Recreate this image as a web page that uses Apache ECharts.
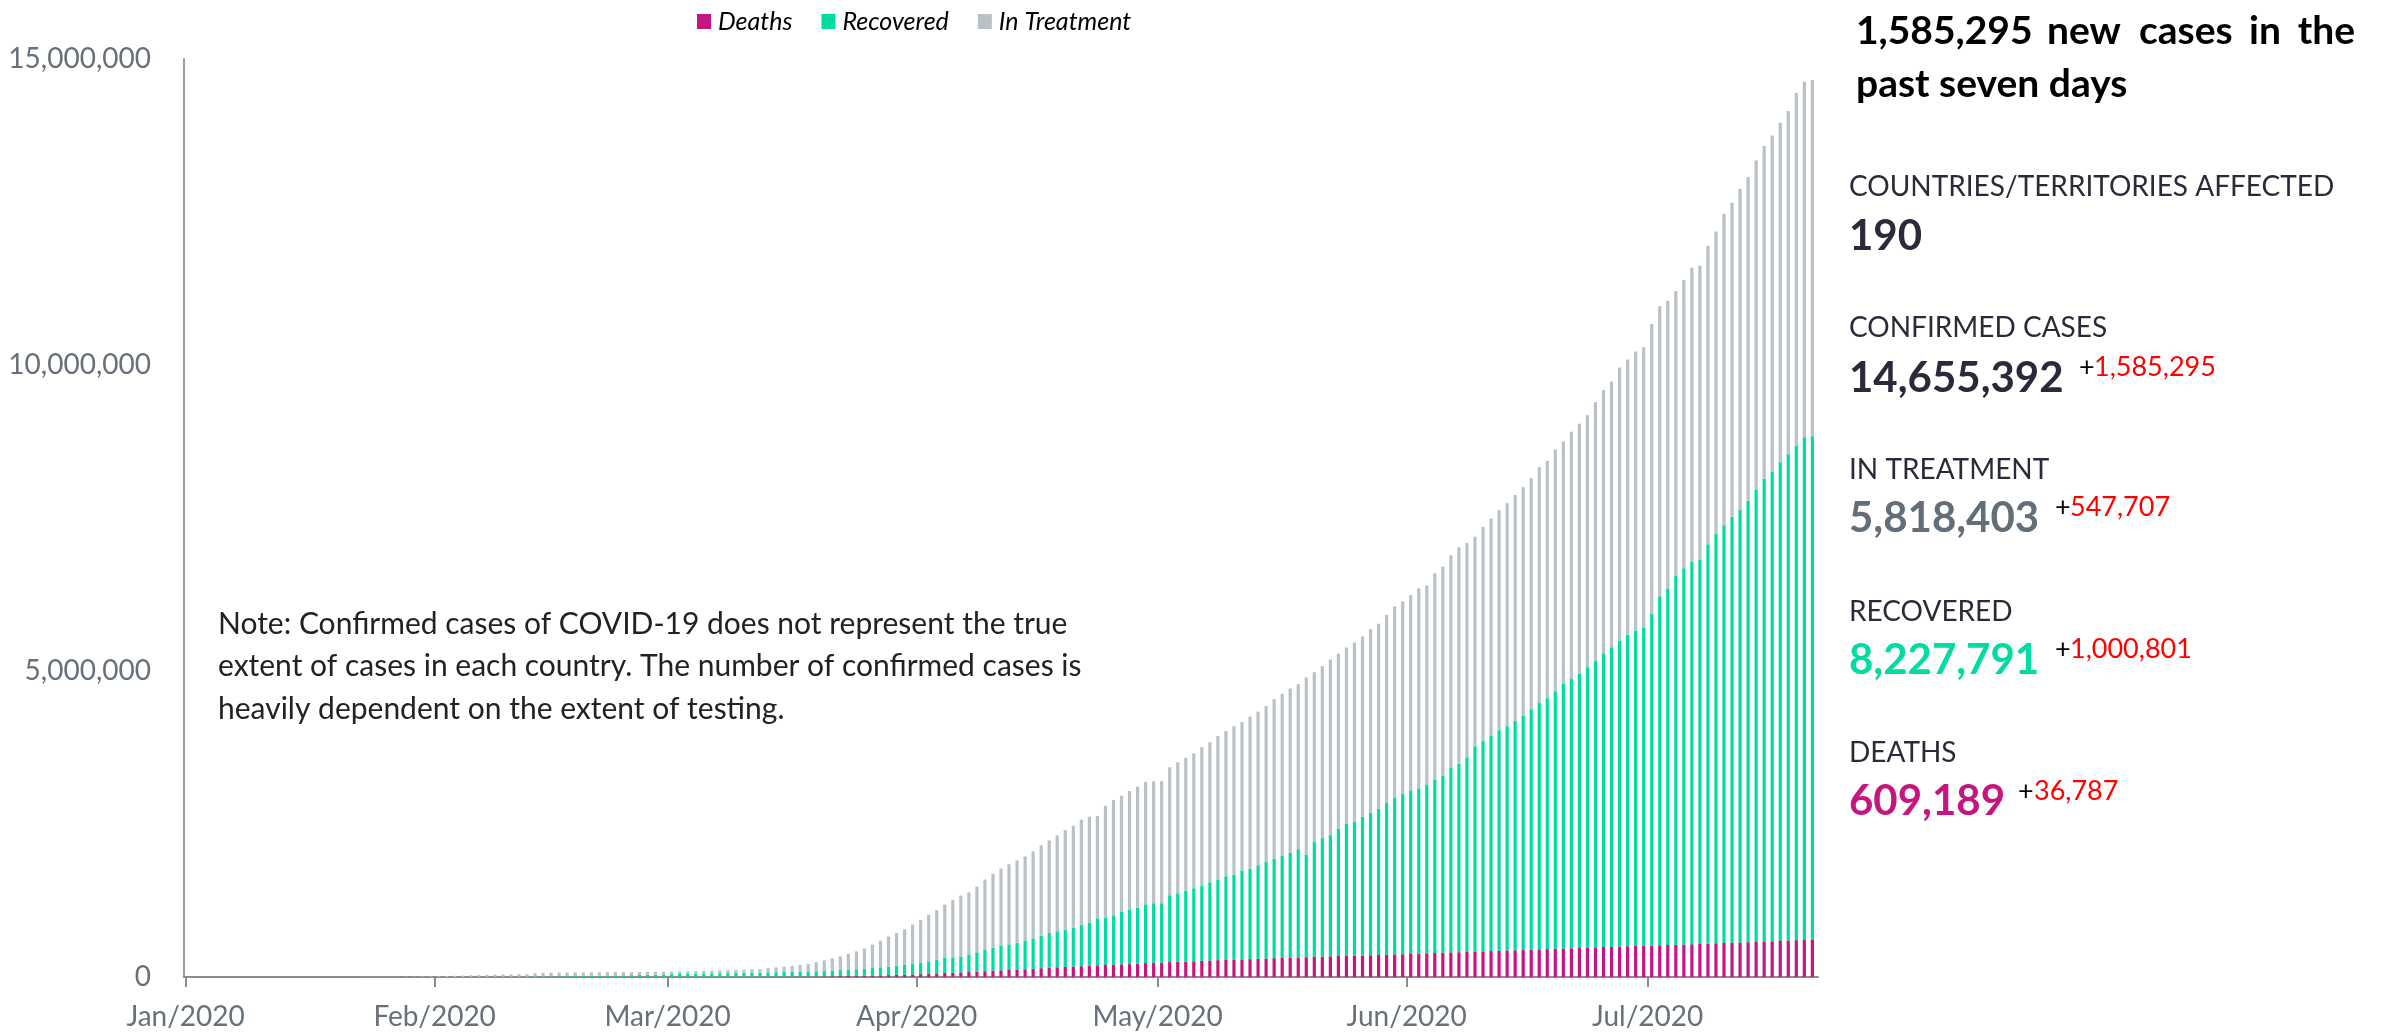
<!DOCTYPE html>
<html>
<head>
<meta charset="utf-8">
<title>COVID-19 cumulative cases</title>
<script src="https://cdn.jsdelivr.net/npm/echarts@6/dist/echarts.min.js"></script>
<style>
  html, body { margin: 0; padding: 0; background: #ffffff; }
  #chart { width: 2387px; height: 1033px; }
</style>
</head>
<body>
<div id="chart"></div>
<script>
// Cumulative global counts per day, from 22 Jan 2020 to 21 Jul 2020, one array per month.
const confirmedJan = [555, 654, 941, 1434, 2118, 2927, 5578, 6166, 8234, 9927];
const confirmedFeb = [12038, 16787, 19887, 23898, 27643, 30802, 34395, 37129, 40160, 42769, 44811, 45229, 60381, 66909, 69052, 71235, 73270, 75152, 75652, 76212, 76841, 78602, 78982, 79546, 80399, 81376, 82736, 84122, 86013];
const confirmedMar = [88371, 90309, 92844, 95124, 97886, 101801, 105847, 109821, 113590, 118620, 125875, 128352, 145205, 156101, 167454, 181574, 197102, 214821, 242570, 272208, 304507, 336953, 378235, 418045, 467653, 529591, 593291, 660706, 720117, 778000, 858000];
const confirmedApr = [932000, 1015000, 1090000, 1183000, 1260000, 1331000, 1382000, 1478000, 1593000, 1686000, 1773000, 1843000, 1904000, 1969000, 2051000, 2149000, 2231000, 2313000, 2400000, 2471000, 2570000, 2619000, 2629000, 2799000, 2891000, 2962000, 3038000, 3110000, 3185000, 3196000];
const confirmedMay = [3199000, 3426000, 3507000, 3584000, 3655000, 3753000, 3835000, 3938000, 4020000, 4097000, 4167000, 4255000, 4337000, 4429000, 4539000, 4626000, 4714000, 4784000, 4894000, 4980000, 5079000, 5188000, 5280000, 5385000, 5467000, 5565000, 5684000, 5771000, 5918000, 6056000, 6138000];
const confirmedJun = [6241000, 6350000, 6399000, 6596000, 6704000, 6890000, 7021000, 7092000, 7195000, 7354000, 7490000, 7627000, 7742000, 7877000, 8003000, 8151000, 8331000, 8434000, 8620000, 8750000, 8910000, 9040000, 9180000, 9390000, 9590000, 9730000, 9960000, 10090000, 10220000, 10290000];
const confirmedJul = [10670000, 10960000, 11050000, 11210000, 11390000, 11590000, 11620000, 11950000, 12180000, 12470000, 12650000, 12880000, 13070000, 13340000, 13580000, 13750000, 13960000, 14150000, 14450000, 14630000, 14655392];

const recoveredJan = [28, 30, 36, 39, 52, 61, 107, 126, 143, 222];
const recoveredFeb = [284, 472, 623, 852, 1124, 1487, 2011, 2616, 3244, 3946, 4683, 5150, 6295, 8058, 9395, 10865, 12583, 14352, 16121, 18177, 18890, 22886, 23394, 25227, 27905, 30384, 33277, 36711, 39782];
const recoveredMar = [42716, 45602, 48228, 51170, 53796, 55865, 58358, 60694, 62494, 64404, 67003, 68324, 70251, 72624, 76034, 78088, 80840, 83207, 84854, 87256, 91499, 97704, 98354, 108000, 113787, 122150, 130915, 139415, 149082, 164566, 178034];
const recoveredApr = [187000, 202000, 224000, 246000, 252000, 262000, 288000, 315000, 352000, 378000, 404000, 420000, 442000, 468000, 498000, 532000, 566000, 587000, 609000, 637000, 679000, 706000, 768000, 774000, 805000, 863000, 890000, 917000, 960000, 972000];
const recoveredMay = [972000, 1092000, 1121000, 1161000, 1193000, 1230000, 1278000, 1318000, 1366000, 1391000, 1454000, 1475000, 1530000, 1585000, 1628000, 1673000, 1719000, 1771000, 1679000, 1876000, 1936000, 1980000, 2085000, 2153000, 2196000, 2274000, 2333000, 2389000, 2477000, 2560000, 2628000];
const recoveredJun = [2674000, 2701000, 2760000, 2836000, 2897000, 3024000, 3081000, 3180000, 3355000, 3443000, 3525000, 3603000, 3664000, 3748000, 3826000, 3929000, 4026000, 4098000, 4208000, 4324000, 4401000, 4487000, 4581000, 4686000, 4799000, 4894000, 5000000, 5087000, 5153000, 5198000];
const recoveredJul = [5427000, 5702000, 5827000, 6033000, 6149000, 6255000, 6280000, 6524000, 6689000, 6824000, 6959000, 7065000, 7212000, 7388000, 7562000, 7666000, 7820000, 7943000, 8078000, 8215000, 8227791];

const deathsJan = [17, 18, 26, 42, 56, 82, 131, 133, 171, 213];
const deathsFeb = [259, 362, 426, 492, 564, 634, 719, 806, 906, 1013, 1113, 1118, 1371, 1523, 1666, 1770, 1868, 2007, 2122, 2247, 2251, 2458, 2469, 2629, 2708, 2770, 2814, 2872, 2941];
const deathsMar = [2996, 3085, 3160, 3254, 3348, 3460, 3558, 3802, 3988, 4262, 4615, 4720, 5404, 5819, 6440, 7126, 7905, 8733, 9867, 11299, 12973, 14623, 16497, 18615, 21181, 23970, 27198, 30652, 33925, 37582, 42107];
const deathsApr = [46809, 52983, 58787, 64606, 69374, 74565, 81865, 88338, 95455, 102525, 108502, 114091, 119481, 125983, 134177, 143800, 153821, 159509, 165069, 169985, 176583, 183066, 190858, 197159, 202846, 206544, 211167, 217153, 227638, 233388];
const deathsMay = [233388, 243813, 247470, 251537, 257239, 263855, 269567, 274898, 279311, 282709, 286330, 291942, 297197, 302418, 307666, 312009, 315185, 318481, 323285, 328115, 332924, 338160, 342070, 345058, 346232, 350453, 355629, 360308, 364867, 369126, 372035];
const deathsJun = [375543, 381497, 387298, 392571, 398112, 402096, 405108, 408613, 413674, 418777, 423793, 428535, 432739, 436168, 439521, 446287, 451600, 456656, 461590, 465824, 469025, 473195, 478582, 484026, 490869, 495614, 500111, 503323, 506849, 511951];
const deathsJul = [513000, 518000, 523000, 527000, 531000, 535000, 540000, 546000, 551000, 556000, 561000, 565000, 568000, 572402, 578000, 584000, 590000, 597000, 602000, 605000, 609189];

// First reporting day of the series; every following entry is one day later.
const firstDay = { year: 2020, month: 0, day: 22 };
const monthTicks = ['Jan/2020', 'Feb/2020', 'Mar/2020', 'Apr/2020', 'May/2020', 'Jun/2020', 'Jul/2020'];
const yTicks = [0, 5000000, 10000000, 15000000];

// Side panel figures
const weeklyNewCases = '1,585,295';
const countriesAffected = '190';
const totalConfirmed = '14,655,392';
const totalInTreatment = '5,818,403';
const totalRecovered = '8,227,791';
const totalDeaths = '609,189';
const weekConfirmed = '1,585,295';
const weekInTreatment = '547,707';
const weekRecovered = '1,000,801';
const weekDeaths = '36,787';

const confirmed = [].concat(confirmedJan, confirmedFeb, confirmedMar, confirmedApr, confirmedMay, confirmedJun, confirmedJul);
const recovered = [].concat(recoveredJan, recoveredFeb, recoveredMar, recoveredApr, recoveredMay, recoveredJun, recoveredJul);
const deaths = [].concat(deathsJan, deathsFeb, deathsMar, deathsApr, deathsMay, deathsJun, deathsJul);

// Bars sit at midday of their date on the time axis.
const dates = confirmed.map((_, i) => new Date(firstDay.year, firstDay.month, firstDay.day + i, 12).getTime());
const inTreatment = confirmed.map((c, i) => c - recovered[i] - deaths[i]);

const pairs = arr => arr.map((v, i) => [dates[i], v]);

const COLORS = {
  deaths: '#c6157f',
  recovered: '#02dba1',
  treatment: '#b8c0c8',
  axisText: '#66717c',
  navy: '#2b2a3b',
  gray: '#646e78',
  red: '#ff0000'
};
const FONT = 'Lato, "Open Sans", sans-serif';

const chart = echarts.init(document.getElementById('chart'), null, { renderer: 'canvas' });

const barBase = {
  type: 'bar',
  stack: 'cases',
  barWidth: 3.2,
  silent: true,
  animation: false
};

const monthLabel = value => {
  const d = new Date(value);
  return monthTicks[d.getMonth()] || '';
};

// Side panel text blocks
const headerStyle = (text, y) => ({
  type: 'text', x: 1849, y: y,
  style: { text: text, font: '28px ' + FONT, fill: COLORS.navy, align: 'left', verticalAlign: 'middle' }
});
const bigStyle = (text, y, color) => ({
  type: 'text', x: 1849, y: y,
  style: { text: text, font: 'bold 42px ' + FONT, fill: color, align: 'left', verticalAlign: 'middle' }
});
const plusStyle = (x, y) => ({
  type: 'text', x: x, y: y,
  style: { text: '+', font: '27px ' + FONT, fill: '#000000', align: 'left', verticalAlign: 'middle' }
});
const redStyle = (text, x, y) => ({
  type: 'text', x: x, y: y,
  style: { text: text, font: '27px ' + FONT, fill: COLORS.red, align: 'left', verticalAlign: 'middle' }
});
const titleWord = (text, x, y, align) => ({
  type: 'text', x: x, y: y,
  style: { text: text, font: 'bold 39px ' + FONT, fill: '#000000', align: align || 'left', verticalAlign: 'middle' }
});

const option = {
  backgroundColor: '#ffffff',
  animation: false,
  color: [COLORS.deaths, COLORS.recovered, COLORS.treatment],
  legend: {
    data: ['Deaths', 'Recovered', 'In Treatment'],
    left: 692,
    top: 4,
    icon: 'rect',
    itemWidth: 14,
    itemHeight: 15,
    itemGap: 29,
    textStyle: { fontFamily: FONT, fontStyle: 'italic', fontSize: 25, color: '#000000', padding: [0, 0, 0, 2] }
  },
  grid: { left: 184, top: 59, right: 569, bottom: 56, containLabel: false },
  xAxis: {
    type: 'time',
    min: new Date(2020, 0, 1).getTime(),
    max: new Date(2020, 6, 22).getTime(),
    minInterval: 28 * 86400000,
    maxInterval: 31 * 86400000,
    axisLine: { show: true, lineStyle: { color: '#8c8c8c', width: 2 } },
    axisTick: { show: true, length: 10, lineStyle: { color: '#8c8c8c', width: 2 } },
    splitLine: { show: false },
    axisLabel: {
      formatter: monthLabel,
      color: COLORS.axisText,
      fontFamily: FONT,
      fontSize: 28,
      margin: 26,
      showMaxLabel: false
    }
  },
  yAxis: {
    type: 'value',
    min: yTicks[0],
    max: yTicks[yTicks.length - 1],
    interval: yTicks[1] - yTicks[0],
    axisLine: { show: true, lineStyle: { color: '#9a9a9a', width: 2 } },
    axisTick: { show: false },
    splitLine: { show: false },
    axisLabel: {
      formatter: v => v.toLocaleString('en-US'),
      color: COLORS.axisText,
      fontFamily: FONT,
      fontSize: 28,
      margin: 33
    }
  },
  series: [
    Object.assign({ name: 'Deaths', data: pairs(deaths), itemStyle: { color: COLORS.deaths } }, barBase),
    Object.assign({ name: 'Recovered', data: pairs(recovered), itemStyle: { color: COLORS.recovered } }, barBase),
    Object.assign({ name: 'In Treatment', data: pairs(inTreatment), itemStyle: { color: COLORS.treatment } }, barBase)
  ],
  graphic: [
    {
      type: 'text', x: 218, y: 603,
      style: {
        text: 'Note: Confirmed cases of COVID-19 does not represent the true\nextent of cases in each country. The number of confirmed cases is\nheavily dependent on the extent of testing.',
        font: '30px ' + FONT, fill: '#222222', lineHeight: 42.5, align: 'left', verticalAlign: 'top'
      }
    },
    titleWord(weeklyNewCases, 1856, 31),
    titleWord('new', 2047, 31),
    titleWord('cases', 2139, 31),
    titleWord('in', 2249, 31),
    titleWord('the', 2355, 31, 'right'),
    titleWord('past seven days', 1856, 84),

    headerStyle('COUNTRIES/TERRITORIES AFFECTED', 187),
    bigStyle(countriesAffected, 236, COLORS.navy),

    headerStyle('CONFIRMED CASES', 328),
    bigStyle(totalConfirmed, 378, COLORS.navy),
    plusStyle(2079, 367),
    redStyle(weekConfirmed, 2094, 367),

    headerStyle('IN TREATMENT', 470),
    bigStyle(totalInTreatment, 518, COLORS.gray),
    plusStyle(2055, 507),
    redStyle(weekInTreatment, 2070, 507),

    headerStyle('RECOVERED', 612),
    bigStyle(totalRecovered, 660, COLORS.recovered),
    plusStyle(2055, 649),
    redStyle(weekRecovered, 2070, 649),

    headerStyle('DEATHS', 753),
    bigStyle(totalDeaths, 801, COLORS.deaths),
    plusStyle(2018, 791),
    redStyle(weekDeaths, 2034, 791)
  ]
};

chart.setOption(option);
</script>
</body>
</html>
